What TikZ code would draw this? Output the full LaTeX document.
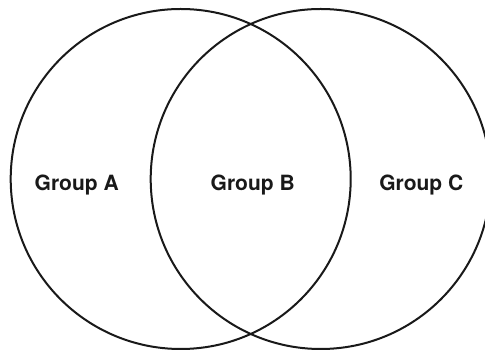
\documentclass[tikz,border=0pt]{standalone}
\usepackage{fontspec}
\setmainfont{TeX Gyre Heros}
\usepackage{tikz}
\usetikzlibrary{positioning,calc}

\tikzset{
  setcircle/.style={line width=2pt,draw=black!90},
  grouplabel/.style={font=\bfseries\fontsize{21}{25}\selectfont,text=black!90,anchor=base,inner sep=0pt}
}

\begin{document}
\begin{tikzpicture}[x=1pt,y=1pt]
  \useasboundingbox (0,0) rectangle (485,350); % 画像の大きさ
  \coordinate (cLeft) at (180.7,171); % 左の円の中心
  \coordinate (cRight) at (320.7,171); % 右の円の中心
  \draw[setcircle] (cLeft) circle[radius=170]; % 左の円
  \draw[setcircle] (cRight) circle[radius=170]; % 右の円
  \node[grouplabel] (groupA) at (76.7,159) {Group A}; % 左だけの領域
  \node[grouplabel] (groupB) at (252.7,159) {Group B}; % 重なりの領域
  \node[grouplabel] (groupC) at (421.3,159) {Group C}; % 右だけの領域
\end{tikzpicture}
\end{document}
